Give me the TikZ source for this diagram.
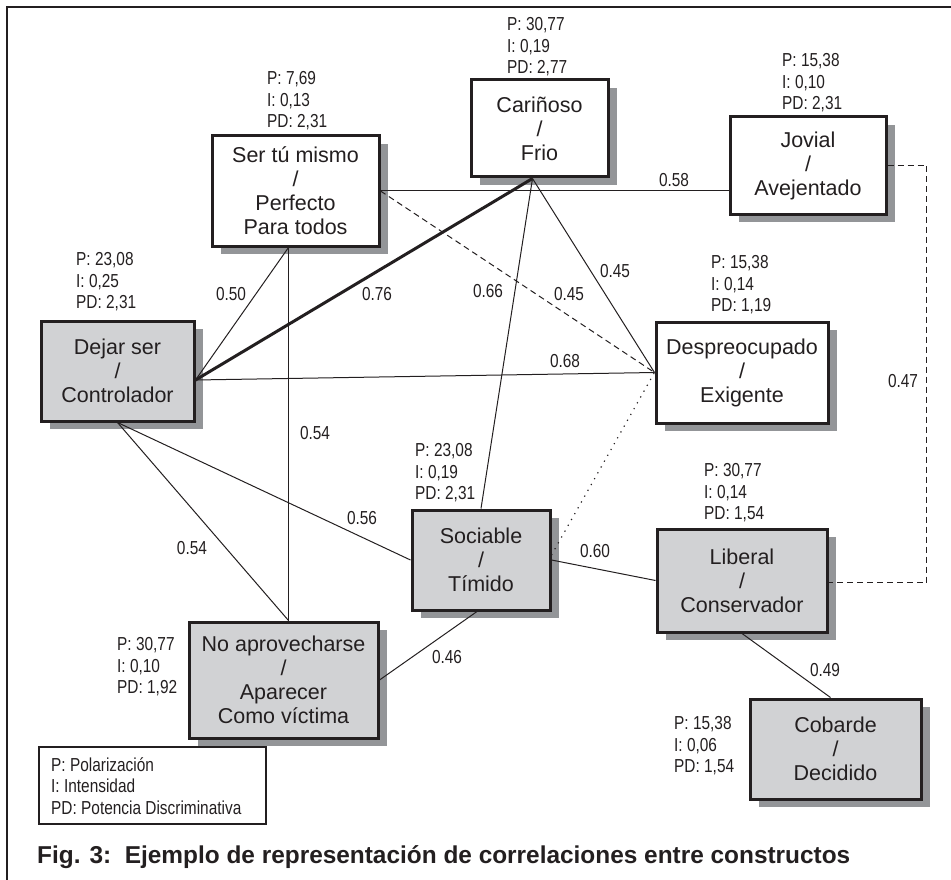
\documentclass[tikz,border=0pt]{standalone}
\usepackage{fontspec}
\setmainfont{Liberation Sans}
\newfontfamily\narrowfont[FakeStretch=0.82]{Liberation Sans}
\usetikzlibrary{shadows}

\definecolor{ink}{RGB}{35,31,32}
\definecolor{boxgray}{RGB}{209,210,212}
\definecolor{shadegray}{RGB}{147,149,152}

\tikzset{
  construct/.style={draw=ink, line width=3pt, inner sep=0pt, align=center,
    text=ink, font=\fontsize{21.5}{24}\selectfont,
    general shadow={fill=shadegray, shadow xshift=9pt, shadow yshift=-8pt}},
  whitebox/.style={construct, fill=white},
  graybox/.style={construct, fill=boxgray},
  stats/.style={anchor=west, align=left, inner sep=0pt, text=ink,
    font=\narrowfont\fontsize{18.8}{21.5}\selectfont},
  corr/.style={inner sep=0pt, text=ink, font=\narrowfont\fontsize{18.8}{21.5}\selectfont},
  conn/.style={draw=ink, line width=1pt},
  strongconn/.style={draw=ink, line width=3pt},
  dashconn/.style={draw=ink, line width=1pt, dash pattern=on 6pt off 4pt},
  dotconn/.style={draw=ink, line width=1.2pt, dash pattern=on 1.2pt off 5.5pt},
}

\begin{document}
\begin{tikzpicture}[x=1pt, y=-1pt]
\useasboundingbox (0,0) rectangle (951,880);

% outer frame (runs past the page on the right and bottom)
\draw[ink, line width=2pt] (951,7) -- (7,7) -- (7,880);

% constructs
\node[whitebox, minimum width=167pt, minimum height=110pt] (ser) at (295.5,191)
  {Ser tú mismo\\/\\Perfecto\\Para todos};
\node[whitebox, minimum width=137pt, minimum height=97pt] (car) at (539.5,128.5)
  {Cariñoso\\/\\Frio};
\node[whitebox, minimum width=156pt, minimum height=97pt] (jov) at (808,165.5)
  {Jovial\\/\\Avejentado};
\node[graybox, minimum width=153pt, minimum height=100pt] (dej) at (117.5,371)
  {Dejar ser\\/\\Controlador};
\node[whitebox, minimum width=172pt, minimum height=101pt] (desp) at (742,372.5)
  {Despreocupado\\/\\Exigente};
\node[graybox, minimum width=138pt, minimum height=100pt] (soc) at (481,560)
  {Sociable\\/\\Tímido};
\node[graybox, minimum width=170pt, minimum height=103pt] (lib) at (742,580.5)
  {Liberal\\/\\Conservador};
\node[graybox, minimum width=171pt, minimum height=100pt] (cob) at (835.5,749)
  {Cobarde\\/\\Decidido};
\node[graybox, minimum width=189pt, minimum height=116pt] (noa) at (283.5,680)
  {No aprovecharse\\/\\Aparecer\\Como víctima};

% indices of each construct
\node[stats] (sser)  at (267,101) {P: 7,69\\I: 0,13\\PD: 2,31};
\node[stats] (scar)  at (507,47)  {P: 30,77\\I: 0,19\\PD: 2,77};
\node[stats] (sjov)  at (782,83)  {P: 15,38\\I: 0,10\\PD: 2,31};
\node[stats] (sdej)  at (76,282)  {P: 23,08\\I: 0,25\\PD: 2,31};
\node[stats] (sdesp) at (711,285) {P: 15,38\\I: 0,14\\PD: 1,19};
\node[stats] (ssoc)  at (415,473) {P: 23,08\\I: 0,19\\PD: 2,31};
\node[stats] (slib)  at (704,493) {P: 30,77\\I: 0,14\\PD: 1,54};
\node[stats] (snoa)  at (117,667) {P: 30,77\\I: 0,10\\PD: 1,92};
\node[stats] (scob)  at (674,746) {P: 15,38\\I: 0,06\\PD: 1,54};

% correlations
\draw[conn] (ser.east) -- (ser.east -| jov.west);
\draw[dashconn] (ser.east) -- (desp.west);
\draw[conn] ([xshift=-7pt]car.south) -- (desp.west);
\draw[conn] ([xshift=-7pt]car.south) -- (soc.north);
\draw[strongconn] ([yshift=-9pt]dej.east) -- ([xshift=-7pt]car.south);
\draw[conn] ([yshift=-9pt]dej.east) -- ([xshift=-7pt]ser.south);
\draw[conn] ([yshift=-9pt]dej.east) -- (desp.west);
\draw[conn] ([xshift=-7pt]ser.south) -- ([xshift=5pt]noa.north);
\draw[conn] (dej.south) -- ([xshift=5pt]noa.north);
\draw[conn] (dej.south) -- (soc.west);
\draw[conn] (soc.east) -- (lib.west);
\draw[dotconn] ([yshift=5pt]soc.east) -- (desp.west);
\draw[conn] ([xshift=-4pt]soc.south) -- (noa.east);
\draw[conn] (lib.south) -- ([xshift=-5pt]cob.north);
\draw[dashconn] (jov.east) -- ++(39,0) |- ([yshift=-2pt]lib.east);

% correlation values
\node[corr] (c58)  at (674,180) {0.58};
\node[corr] (c50)  at (231,294) {0.50};
\node[corr] (c76)  at (377,294) {0.76};
\node[corr] (c45a) at (569,294) {0.45};
\node[corr] (c45b) at (615,271) {0.45};
\node[corr] (c66)  at (488,291) {0.66};
\node[corr] (c68)  at (565,361) {0.68};
\node[corr] (c54a) at (315,433) {0.54};
\node[corr] (c56)  at (362,518) {0.56};
\node[corr] (c54b) at (192,548) {0.54};
\node[corr] (c60)  at (595,551) {0.60};
\node[corr] (c47)  at (903,381) {0.47};
\node[corr] (c46)  at (447,657) {0.46};
\node[corr] (c49)  at (825,670) {0.49};

% key
\node[draw=ink, line width=2pt, minimum width=227pt, minimum height=77pt,
      inner sep=0pt] (key) at (152.5,785.5) {};
\node[stats] (keytext) at (51,786)
  {P: Polarización\\I: Intensidad\\PD: Potencia Discriminativa};

% caption
\node[anchor=west, inner sep=0pt, text=ink,
      font=\bfseries\fontsize{24.4}{28}\selectfont] (caption) at (37,857)
  {Fig. 3:\ \ Ejemplo de representación de correlaciones entre constructos};
\end{tikzpicture}
\end{document}
